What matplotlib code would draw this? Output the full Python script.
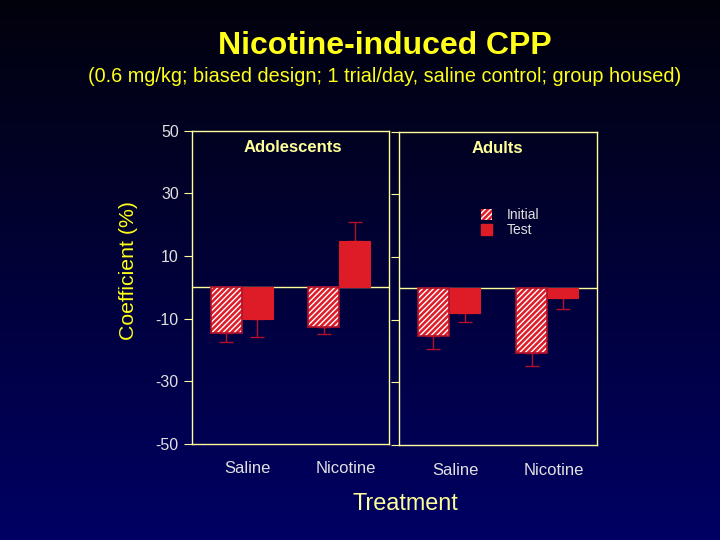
import numpy as np
import matplotlib
matplotlib.use("Agg")
import matplotlib.pyplot as plt
from matplotlib.patches import Patch

plt.rcParams['font.family'] = ['Liberation Sans', 'DejaVu Sans']
plt.rcParams['axes.unicode_minus'] = False

groups = ["Saline", "Nicotine"]
panels = ["Adolescents", "Adults"]
series = ["Initial", "Test"]
adol_initial = [-14.7, -12.8]
adol_initial_err = [2.9, 2.2]
adol_test = [-10.2, 14.7]
adol_test_err = [5.8, 6.1]
adult_initial = [-15.3, -20.5]
adult_initial_err = [4.2, 4.4]
adult_test = [-8.0, -3.2]
adult_test_err = [2.8, 3.5]
yticks = [-50, -30, -10, 10, 30, 50]

RED = '#dd1c28'
EDGE = '#b0102a'
FRAME = '#ffff99'
YELLOW = '#ffff1a'
TICKC = '#e0e0e0'

fig = plt.figure(figsize=(7.2, 5.4), dpi=100)
bg = fig.add_axes([0, 0, 1, 1], zorder=-10)
top = np.array([2, 2, 12]) / 255
bot = np.array([0, 0, 100]) / 255
t = np.linspace(0, 1, 256)[:, None]
grad = top[None, :] * (1 - t) + bot[None, :] * t
bg.imshow(grad[:, None, :].repeat(2, axis=1), aspect='auto', extent=[0, 1, 0, 1])
bg.axis('off')

fig.text(0.534, 0.915, "Nicotine-induced CPP", color=YELLOW, fontsize=23, fontweight='bold',
         ha='center', va='center')
fig.text(0.534, 0.859, "(0.6 mg/kg; biased design; 1 trial/day, saline control; group housed)",
         color=YELLOW, fontsize=14.3, ha='center', va='center')
fig.text(0.178, 0.5, "Coefficient (%)", color=YELLOW, fontsize=15.3, rotation=90,
         ha='center', va='center')
fig.text(0.5625, 0.068, "Treatment", color=FRAME, fontsize=16.8, ha='center', va='center')

centers = np.array([1.6, 4.75])
width = 1.0
data = [
    (adol_initial, adol_initial_err, adol_test, adol_test_err),
    (adult_initial, adult_initial_err, adult_test, adult_test_err),
]
positions = [[0.2667, 0.178, 0.2736, 0.58], [0.5542, 0.176, 0.275, 0.58]]

for i, (pos, (ini, inie, tst, tste)) in enumerate(zip(positions, data)):
    ax = fig.add_axes(pos)
    ax.set_facecolor('none')
    ax.set_xlim(0, 6.35)
    ax.set_ylim(-50, 50)
    for s in ax.spines.values():
        s.set_color(FRAME)
        s.set_linewidth(1.0)
    ax.axhline(0, color=FRAME, lw=1.0, zorder=1)
    xi = centers - width / 2
    xt = centers + width / 2
    ini = np.array(ini); tst = np.array(tst)
    ax.bar(xi, ini, width, color=RED, edgecolor='white', hatch='//////', linewidth=0, zorder=2)
    ax.bar(xi, ini, width, color='none', edgecolor=EDGE, linewidth=1.2, zorder=3)
    ax.bar(xt, tst, width, color=RED, edgecolor=RED, linewidth=0.8, zorder=2)
    for x, v, e in list(zip(xi, ini, inie)) + list(zip(xt, tst, tste)):
        yerr = [[e], [0]] if v < 0 else [[0], [e]]
        ax.errorbar([x], [v], yerr=yerr, color=EDGE, capsize=5, capthick=1, elinewidth=1, zorder=1)
    ax.set_yticks(yticks)
    ax.tick_params(axis='y', direction='out', length=6, color=FRAME, labelcolor=TICKC, labelsize=11.5)
    if i == 1:
        ax.set_yticklabels([])
    ax.set_xticks(centers + 0.2)
    ax.set_xticklabels(groups)
    ax.tick_params(axis='x', length=0, labelcolor=TICKC, labelsize=12, pad=12 if i == 0 else 13)
    ax.text(0.51 if i == 0 else 0.495, 0.945, panels[i], transform=ax.transAxes, color=FRAME,
            fontsize=12, fontweight='bold', ha='center', va='center')
    if i == 1:
        h1 = Patch(facecolor=RED, edgecolor='white', hatch='//////', linewidth=0)
        h2 = Patch(facecolor=RED, edgecolor=RED)
        ax.legend([h1, h2], series, loc='upper left', bbox_to_anchor=(0.35, 0.795),
                  frameon=False, fontsize=10, handlelength=0.8, handleheight=0.9,
                  handletextpad=1.1, labelspacing=0.05, labelcolor=TICKC)

fig.savefig("out.png", dpi=100)
